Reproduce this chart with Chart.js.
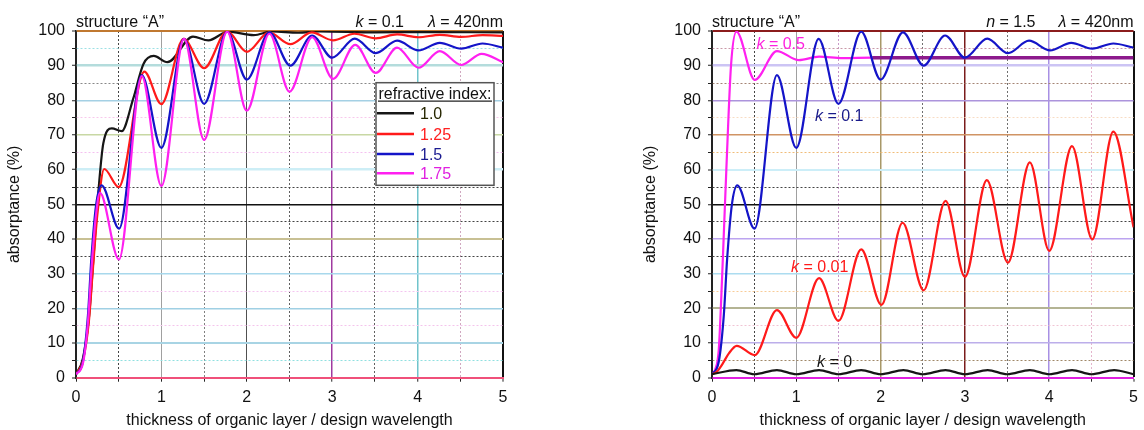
<!DOCTYPE html>
<html>
<head>
<meta charset="utf-8">
<script src="https://cdn.jsdelivr.net/npm/chart.js@4.4.0/dist/chart.umd.min.js"></script>
<style>
    html, body { margin: 0; padding: 0; background: #fff; }
    #wrap { position: relative; width: 1144px; height: 430px; }
    #chartN { position: absolute; left: 0; top: 0; }
    #chartK { position: absolute; left: 636px; top: 0; }
</style>
</head>
<body>
<div id="wrap">
    <canvas id="chartN" width="560" height="430"></canvas>
    <canvas id="chartK" width="508" height="430"></canvas>
</div>
<script>
// thickness of organic layer / design wavelength -> absorptance (%)
// structure "A", k = 0.1, different refractive index
var tN10 = [0, 0.08, 0.15, 0.2, 0.25, 0.32, 0.42, 0.535, 0.67, 0.79, 0.91, 1.07, 1.37, 1.55, 1.78, 2.08, 2.3, 2.6, 2.85, 3.5, 4.0, 5];
var aN10 = [1, 5.5, 17, 33, 50, 67.6, 71.9, 71.1, 80.5, 90.5, 92.8, 91.0, 98.4, 97.3, 99.8, 98.8, 99.9, 99.5, 99.9, 99.6, 99.7, 99.6];

var tN125 = [0, 0.08, 0.15, 0.2, 0.25, 0.33, 0.5, 0.8, 1.0, 1.26, 1.5, 1.77, 2.0, 2.26, 2.51, 2.76, 3.01, 3.26, 3.51, 3.76, 4.01, 4.26, 4.51, 4.76, 5];
var aN125 = [1, 4.8, 16, 32, 47, 60.2, 55.0, 88.3, 78.9, 97.7, 89.3, 99.9, 94.0, 99.6, 96.2, 99.6, 97.3, 99.2, 97.9, 99.0, 98.2, 98.9, 98.3, 98.8, 98.6];

var tN15 = [0, 0.08, 0.14, 0.18, 0.235, 0.30, 0.505, 0.77, 1.0, 1.265, 1.5, 1.77, 2.0, 2.265, 2.51, 2.765, 3.0, 3.265, 3.51, 3.76, 4.01, 4.26, 4.51, 4.76, 5];
var aN15 = [1, 4.6, 18, 34.4, 49.8, 55.5, 43.0, 87.3, 66.3, 97.7, 79.0, 99.8, 86.0, 99.6, 90.0, 98.7, 92.3, 97.8, 93.6, 97.2, 94.4, 96.6, 94.9, 96.4, 95.2];

var tN175 = [0, 0.08, 0.14, 0.18, 0.23, 0.28, 0.503, 0.77, 1.0, 1.265, 1.5, 1.77, 2.0, 2.265, 2.5, 2.765, 3.01, 3.27, 3.51, 3.76, 4.01, 4.26, 4.51, 4.75, 5];
var aN175 = [1, 4, 16, 31, 46, 53.3, 34.1, 87.0, 55.3, 97.7, 68.6, 99.8, 77.0, 99.2, 82.5, 98.2, 86.2, 96.0, 87.9, 95.2, 89.4, 94.2, 90.2, 93.4, 91.0];

// structure "A", n = 1.5, different extinction coefficient (k = 0.1 is tN15/aN15)
var tK05 = [0, 0.04, 0.08, 0.12, 0.17, 0.226, 0.29, 0.507, 0.77, 1.03, 1.27, 1.55, 1.9, 2.5, 3, 4, 5];
var aK05 = [1, 2.5, 8, 29, 60, 90.2, 99.8, 85.9, 94.2, 91.6, 92.6, 92.2, 92.3, 92.3, 92.3, 92.3, 92.3];

var tK001 = [0, 0.06, 0.12, 0.2, 0.293, 0.507, 0.77, 1.0, 1.27, 1.5, 1.77, 2.01, 2.26, 2.51, 2.77, 3.0, 3.26, 3.51, 3.77, 4.0, 4.27, 4.51, 4.76, 5];
var aK001 = [1, 1.8, 3.8, 7.0, 9.2, 6.5, 19.5, 11.5, 28.7, 16.4, 37.0, 21.0, 44.7, 25.2, 51.0, 29.1, 57.0, 33.2, 62.1, 36.6, 66.8, 39.9, 71.0, 43.4];

var tK0 = [0, 0.29, 0.5, 0.77, 1.0, 1.27, 1.5, 1.77, 2.0, 2.27, 2.5, 2.77, 3.0, 3.27, 3.5, 3.77, 4.0, 4.27, 4.5, 4.77, 5];
var aK0 = [1, 2.2, 1.0, 2.2, 1.0, 2.2, 1.0, 2.2, 1.0, 2.2, 1.0, 2.2, 1.0, 2.2, 1.0, 2.2, 1.0, 2.2, 1.0, 2.2, 1.0];

var thicknessTicks = [0, 1, 2, 3, 4, 5];
var absorptanceTicks = [0, 10, 20, 30, 40, 50, 60, 70, 80, 90, 100];
var indexLabels = ['1.0', '1.25', '1.5', '1.75'];

var FONT = '"Liberation Sans", Arial, sans-serif';
Chart.defaults.font.family = FONT;
Chart.defaults.font.size = 16;
Chart.defaults.color = '#111';

function pts(xs, ys) {
    return xs.map(function (x, i) { return {x: x, y: ys[i]}; });
}

// [colour, dotted, width] for every grid value
var gridN_x = {
    '0': ['#222', 0, 1], '0.5': ['#444', 1, 1], '1': ['#a0a0a0', 0, 1], '1.5': ['#808080', 1, 1],
    '2': ['#505050', 0, 1], '2.5': ['#606060', 1, 1], '3': ['#a03aa0', 0, 1.5], '3.5': ['#606060', 1, 1],
    '4': ['#70c4cc', 0, 1.5], '4.5': ['#d0a8c0', 1, 1], '5': ['#111', 0, 2]
};
var gridN_y = {
    '0': ['#f0507a', 0, 2], '5': ['#90e0e0', 1, 1], '10': ['#a8d4e4', 0, 2], '15': ['#f4c4ec', 1, 1],
    '20': ['#a0d0e4', 0, 1.5], '25': ['#f4c4f0', 1, 1], '30': ['#a8d8ec', 0, 1.5], '35': ['#444', 1, 1],
    '40': ['#c8c094', 0, 2], '45': ['#444', 1, 1], '50': ['#111', 0, 1.5], '55': ['#444', 1, 1],
    '60': ['#cdeef6', 0, 2.5], '65': ['#f4c0f0', 1, 1], '70': ['#c8d8a4', 0, 1.5], '75': ['#f8c8ec', 1, 1],
    '80': ['#a4d0e4', 0, 1.5], '85': ['#888', 1, 1], '90': ['#b4dcdc', 0, 2.5], '95': ['#9ce0e4', 1, 1],
    '100': ['#c07830', 0, 2]
};
var gridK_x = {
    '0': ['#222', 0, 1], '0.5': ['#444', 1, 1], '1': ['#a0a0a0', 0, 1], '1.5': ['#c898c8', 1, 1],
    '2': ['#a89868', 0, 1.5], '2.5': ['#707070', 1, 1], '3': ['#7a1c1c', 0, 1.5], '3.5': ['#707070', 1, 1],
    '4': ['#a890e4', 0, 1.5], '4.5': ['#e4b4cc', 1, 1], '5': ['#111', 0, 2]
};
var gridK_y = {
    '0': ['#e020e0', 0, 2], '5': ['#a08868', 1, 1], '10': ['#bcaeea', 0, 1.5], '15': ['#f0c4d4', 1, 1],
    '20': ['#b4b494', 0, 2], '25': ['#f8cc98', 1, 1], '30': ['#acdcf0', 0, 1.5], '35': ['#444', 1, 1],
    '40': ['#bca4f0', 0, 1.5], '45': ['#444', 1, 1], '50': ['#111', 0, 1.5], '55': ['#444', 1, 1],
    '60': ['#cceef8', 0, 2], '65': ['#f0bc78', 1, 1], '70': ['#d09464', 0, 1.5], '75': ['#f8dcc4', 1, 1],
    '80': ['#ac94dc', 0, 1.5], '85': ['#a48474', 1, 1], '90': ['#ccc4f4', 0, 2.5], '95': ['#c898a8', 1, 1],
    '100': ['#8b1c1c', 0, 2]
};

function axisX(lines, borderColor) {
    return {
        type: 'linear', min: 0, max: 5,
        afterFit: function (s) { s.height = 52.3; },
        ticks: {
            stepSize: 0.5, autoSkip: false, maxRotation: 0, padding: 6,
            callback: function (v) { return thicknessTicks.indexOf(v) >= 0 ? String(v) : ''; }
        },
        grid: gridOpts(lines),
        border: borderOpts(lines, borderColor, 2),
        title: {display: true, text: 'thickness of organic layer / design wavelength', padding: {top: 4, bottom: 0}}
    };
}
function axisY(lines) {
    return {
        type: 'linear', min: 0, max: 100,
        afterFit: function (s) { s.width = 76; },
        ticks: {
            stepSize: 5, autoSkip: false, padding: 7,
            callback: function (v) { return absorptanceTicks.indexOf(v) >= 0 ? String(v) : ''; }
        },
        grid: gridOpts(lines),
        border: borderOpts(lines, '#222', 1.5),
        title: {display: true, text: 'absorptance (%)', padding: {top: 5, bottom: 0}}
    };
}
function gridOpts(lines) {
    return {
        color: function (c) { var s = lines[c.tick.value]; return s ? s[0] : 'rgba(0,0,0,0)'; },
        lineWidth: function (c) { var s = lines[c.tick.value]; return s ? s[2] : 0; },
        tickColor: '#222', tickLength: 4, tickWidth: 1
    };
}
function borderOpts(lines, color, width) {
    return {
        color: color, width: width,
        dash: function (c) {
            if (!c.tick) return [];
            var s = lines[c.tick.value];
            return s && s[1] ? [2, 2] : [];
        }
    };
}

function line(label, xs, ys, color, order) {
    return {
        label: label, data: pts(xs, ys), borderColor: color, backgroundColor: color,
        borderWidth: 2.2, pointRadius: 0, fill: false, cubicInterpolationMode: 'monotone', order: order
    };
}

// header line above the plot: left text and italic-symbol pieces on the right
var headerPlugin = {
    id: 'header',
    afterDraw: function (chart, args, opts) {
        var ctx = chart.ctx, a = chart.chartArea;
        var y = a.top - 4.5;
        ctx.save();
        ctx.fillStyle = '#111';
        ctx.textBaseline = 'alphabetic';
        ctx.textAlign = 'left';
        ctx.font = '16px ' + FONT;
        ctx.fillText(opts.left, a.left, y);
        var x = a.right;
        for (var i = opts.right.length - 1; i >= 0; i--) {
            var p = opts.right[i];
            if (typeof p === 'number') { x -= p; continue; }
            ctx.font = (p[1] ? 'italic ' : '') + '16px ' + FONT;
            x -= ctx.measureText(p[0]).width;
            ctx.fillText(p[0], x, y);
        }
        ctx.restore();
    }
};

// legend box with underlined title
var indexLegend = {
    id: 'indexLegend',
    afterDraw: function (chart, args, opts) {
        if (!opts.show) return;
        var ctx = chart.ctx, a = chart.chartArea;
        var bx = a.right - 127, by = a.top + 51.7, bw = 118, bh = 102.6;
        ctx.save();
        ctx.fillStyle = '#fff';
        ctx.fillRect(bx, by, bw, bh);
        ctx.strokeStyle = '#555';
        ctx.lineWidth = 1.5;
        ctx.strokeRect(bx, by, bw, bh);
        ctx.font = '16px ' + FONT;
        ctx.fillStyle = '#111';
        ctx.textBaseline = 'alphabetic';
        ctx.fillText('refractive index:', bx + 2.5, by + 16.3);
        ctx.lineWidth = 1.3;
        ctx.strokeStyle = '#222';
        ctx.beginPath();
        ctx.moveTo(bx + 2, by + 18.5);
        ctx.lineTo(bx + 116, by + 18.5);
        ctx.stroke();
        var rows = [30.6, 51.3, 71.3, 90.6];
        chart.data.datasets.forEach(function (ds, i) {
            var ly = by + rows[i];
            ctx.strokeStyle = ds.borderColor;
            ctx.lineWidth = 2.5;
            ctx.beginPath();
            ctx.moveTo(bx + 1, ly);
            ctx.lineTo(bx + 38, ly);
            ctx.stroke();
            ctx.fillStyle = opts.textColors[i];
            ctx.fillText(ds.label, bx + 44, ly + 5.8);
        });
        ctx.restore();
    }
};

// curve labels placed in data coordinates
var curveLabels = {
    id: 'curveLabels',
    afterDatasetsDraw: function (chart, args, opts) {
        if (!opts.items) return;
        var ctx = chart.ctx, sx = chart.scales.x, sy = chart.scales.y;
        ctx.save();
        ctx.textBaseline = 'alphabetic';
        opts.items.forEach(function (it) {
            var x = sx.getPixelForValue(it.x), y = sy.getPixelForValue(it.y);
            ctx.fillStyle = it.color;
            ctx.font = 'italic 16px ' + FONT;
            ctx.fillText('k', x, y);
            x += ctx.measureText('k').width;
            ctx.font = '16px ' + FONT;
            ctx.fillText(' = ' + it.text, x, y);
        });
        ctx.restore();
    }
};

new Chart(document.getElementById('chartN').getContext('2d'), {
    type: 'line',
    data: {
        datasets: [
            line(indexLabels[0], tN10, aN10, '#161616', 3),
            line(indexLabels[1], tN125, aN125, '#ff1a1a', 2),
            line(indexLabels[2], tN15, aN15, '#1414c8', 1),
            line(indexLabels[3], tN175, aN175, '#ff20f0', 0)
        ]
    },
    options: {
        responsive: false,
        animation: false,
        layout: {padding: {top: 31, right: 57, left: 0, bottom: 0}},
        scales: {x: axisX(gridN_x, '#f0507a'), y: axisY(gridN_y)},
        plugins: {
            legend: {display: false},
            tooltip: {enabled: false},
            header: {left: 'structure \u201cA\u201d', right: [['k', 1], [' = 0.1', 0], 24, ['\u03bb', 1], [' = 420nm', 0]]},
            indexLegend: {show: true, textColors: ['#262600', '#ff2020', '#1a1a90', '#e020e0']}
        }
    },
    plugins: [headerPlugin, indexLegend]
});

var k05 = line('k = 0.5', tK05, aK05, '#ff20f0', 3);
k05.segment = {
    borderColor: function (c) { return c.p0.parsed.x >= 1.9 ? '#8c1a8c' : undefined; },
    borderWidth: function (c) { return c.p0.parsed.x >= 1.9 ? 3.5 : undefined; }
};

new Chart(document.getElementById('chartK').getContext('2d'), {
    type: 'line',
    data: {
        datasets: [
            line('k = 0', tK0, aK0, '#161616', 0),
            line('k = 0.01', tK001, aK001, '#ff1a1a', 1),
            line('k = 0.1', tN15, aN15, '#1414c8', 2),
            k05
        ]
    },
    options: {
        responsive: false,
        animation: false,
        layout: {padding: {top: 31, right: 5, left: 0, bottom: 0}},
        scales: {x: axisX(gridK_x, '#e020e0'), y: axisY(gridK_y)},
        plugins: {
            legend: {display: false},
            tooltip: {enabled: false},
            header: {left: 'structure \u201cA\u201d', right: [['n', 1], [' = 1.5', 0], 23, ['\u03bb', 1], [' = 420nm', 0]]},
            indexLegend: {show: false},
            curveLabels: {
                items: [
                    {x: 0.527, y: 94.8, text: '0.5', color: '#ff20e0'},
                    {x: 1.221, y: 73.9, text: '0.1', color: '#1a1a8a'},
                    {x: 0.937, y: 30.6, text: '0.01', color: '#ff1a1a'},
                    {x: 1.245, y: 3.2, text: '0', color: '#161616'}
                ]
            }
        }
    },
    plugins: [headerPlugin, curveLabels]
});
</script>
</body>
</html>
